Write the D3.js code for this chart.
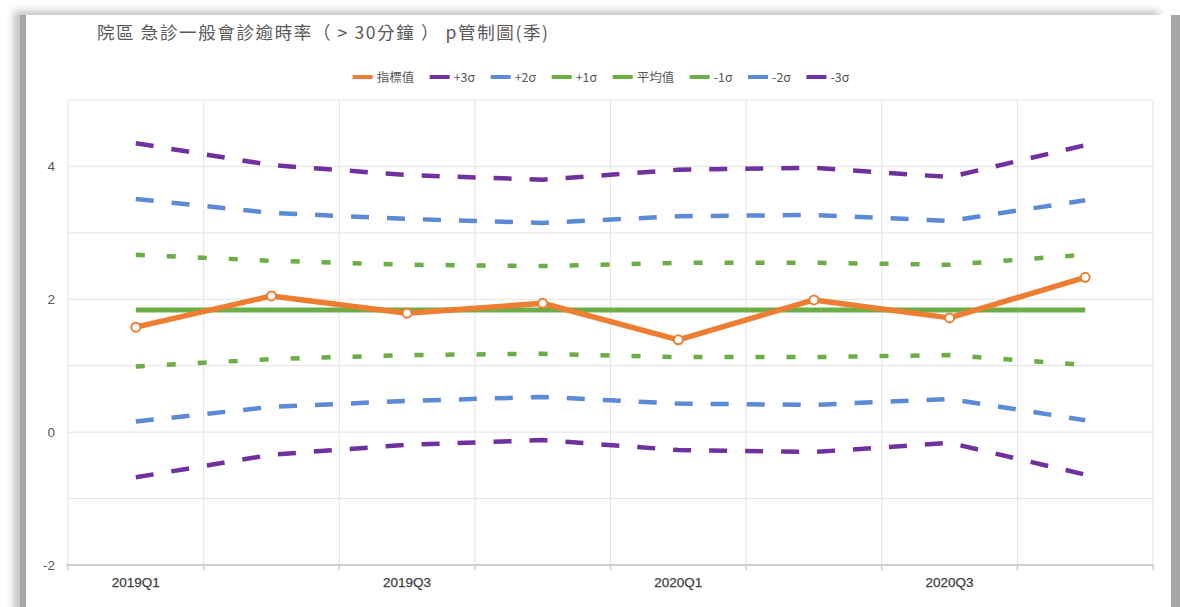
<!DOCTYPE html>
<html><head><meta charset="utf-8">
<script src="https://cdn.jsdelivr.net/npm/d3@7"></script>
<style>
html,body{margin:0;padding:0;background:#fff;overflow:hidden;}
#card{position:absolute;left:26px;top:15px;width:1145px;height:620px;background:#fff;
box-shadow:-6px 0 0 0 #a6a6a6, -12px -4px 8px 0 rgba(0,0,0,0.25), 9px 0 0 0 #a6a6a6;}
svg{position:absolute;left:0;top:0;}
</style></head><body>
<div id="card"></div>
<svg id="chart" width="1180" height="607"></svg>
<script>
const categories = ["2019Q1","2019Q2","2019Q3","2019Q4","2020Q1","2020Q2","2020Q3","2020Q4"];
const xTickLabels = ["2019Q1","2019Q3","2020Q1","2020Q3"];
const yTicks = [-2,0,2,4];
const indexValues = [1.58, 2.05, 1.79, 1.94, 1.39, 1.99, 1.72, 2.33];
const plus3 = [4.35, 4.02, 3.87, 3.80, 3.95, 3.98, 3.84, 4.32];
const plus2 = [3.51, 3.30, 3.21, 3.15, 3.25, 3.27, 3.18, 3.49];
const plus1 = [2.67, 2.58, 2.52, 2.50, 2.55, 2.55, 2.52, 2.67];
const meanValues = [1.84, 1.84, 1.84, 1.84, 1.84, 1.84, 1.84, 1.84];
const minus1 = [0.99, 1.10, 1.16, 1.18, 1.13, 1.13, 1.16, 1.01];
const minus2 = [0.16, 0.38, 0.47, 0.53, 0.43, 0.41, 0.50, 0.18];
const minus3 = [-0.68, -0.34, -0.19, -0.12, -0.27, -0.30, -0.16, -0.64];
const seriesNames = ["指標值","+3σ","+2σ","+1σ","平均值","-1σ","-2σ","-3σ"];
const title = "院區 急診一般會診逾時率（ > 30分鐘 ） p管制圖(季)";

const C_OR="#ED7D31", C_PU="#7030A0", C_BL="#5B8AD6", C_GR="#6AAE45";
const series = [
  {name:seriesNames[1], v:plus3, c:C_PU, dash:"18,18"},
  {name:seriesNames[2], v:plus2, c:C_BL, dash:"18,18"},
  {name:seriesNames[3], v:plus1, c:C_GR, dash:"9,22"},
  {name:seriesNames[5], v:minus1, c:C_GR, dash:"9,22"},
  {name:seriesNames[6], v:minus2, c:C_BL, dash:"18,18"},
  {name:seriesNames[7], v:minus3, c:C_PU, dash:"18,18"},
  {name:seriesNames[4], v:meanValues, c:C_GR, dash:null}
];
const legendItems = [
  {n:seriesNames[0],c:C_OR},{n:seriesNames[1],c:C_PU},{n:seriesNames[2],c:C_BL},{n:seriesNames[3],c:C_GR},
  {n:seriesNames[4],c:C_GR},{n:seriesNames[5],c:C_GR},{n:seriesNames[6],c:C_BL},{n:seriesNames[7],c:C_PU}
];

const svg = d3.select("#chart");
const L=68,R=1153,T=100,B=565;
const x = d3.scaleBand().domain(categories).range([L,R]).padding(0);
const y = d3.scaleLinear().domain([-2,5]).range([B,T]);
const cx = d => x(d)+x.bandwidth()/2;

// grid
const g = svg.append("g");
g.selectAll("line.h").data(d3.range(-2,6,1)).join("line")
  .attr("x1",L).attr("x2",R).attr("y1",d=>y(d)).attr("y2",d=>y(d))
  .attr("stroke","#e4e4e4").attr("stroke-width",1);
const edges = categories.map(c=>x(c)).concat([R]);
g.selectAll("line.v").data(edges).join("line")
  .attr("x1",d=>d).attr("x2",d=>d).attr("y1",T).attr("y2",B)
  .attr("stroke","#e4e4e4").attr("stroke-width",1);

// x axis
g.append("line").attr("x1",L-2).attr("x2",R+1).attr("y1",B).attr("y2",B).attr("stroke","#cfcfcf").attr("stroke-width",2);
g.selectAll("line.t").data(edges).join("line")
  .attr("x1",d=>d).attr("x2",d=>d).attr("y1",B).attr("y2",B+5).attr("stroke","#cfcfcf").attr("stroke-width",1.5);
svg.append("g").selectAll("text").data(xTickLabels).join("text")
  .attr("x",d=>cx(d)).attr("y",587).attr("text-anchor","middle")
  .attr("font-family","Liberation Sans, Arial, sans-serif").attr("font-size",13.5).attr("fill","#404040")
  .attr("stroke","#404040").attr("stroke-width",0.25)
  .text(d=>d);
// y labels
svg.append("g").selectAll("text").data(yTicks).join("text")
  .attr("x",55).attr("y",d=>y(d)+5).attr("text-anchor","end")
  .attr("font-family","Liberation Sans, Arial, sans-serif").attr("font-size",13.5).attr("fill","#595959")
  .text(d=>d);

// lines
const line = d3.line().x((d,i)=>cx(categories[i])).y(d=>y(d));
series.forEach(s=>{
  svg.append("path").attr("d",line(s.v)).attr("fill","none").attr("stroke",s.c)
    .attr("stroke-width",s.dash?4.5:5).attr("stroke-dasharray",s.dash)
    .attr("stroke-linejoin","round");
});
svg.append("path").attr("d",line(indexValues)).attr("fill","none").attr("stroke",C_OR)
  .attr("stroke-width",5.5).attr("stroke-linejoin","round");
svg.append("g").selectAll("circle").data(indexValues).join("circle")
  .attr("cx",(d,i)=>cx(categories[i])).attr("cy",d=>y(d)).attr("r",4.5)
  .attr("fill","#fff").attr("stroke",C_OR).attr("stroke-width",2);

// title
svg.append("text").attr("x",97).attr("y",39)
  .attr("font-family","Noto Sans CJK TC, sans-serif").attr("font-size",17.5).attr("fill","#595959")
  .attr("textLength",451).attr("lengthAdjust","spacing")
  .text(title);

// legend
const lg = svg.append("g");
let lx = 0;
legendItems.forEach(it=>{
  const gi = lg.append("g").attr("transform",`translate(${lx},0)`);
  gi.append("line").attr("x1",0).attr("x2",20).attr("y1",0).attr("y2",0).attr("stroke",it.c).attr("stroke-width",4);
  const t = gi.append("text").attr("x",24).attr("y",4.5)
    .attr("font-family","Noto Sans CJK TC, sans-serif").attr("font-size",12.5).attr("fill","#595959").text(it.n);
  const w = t.node().getComputedTextLength();
  lx += 24 + w + 15.5;
});
const totalW = lx - 15.5;
lg.attr("transform",`translate(${601-totalW/2},77)`);
</script>
</body></html>
